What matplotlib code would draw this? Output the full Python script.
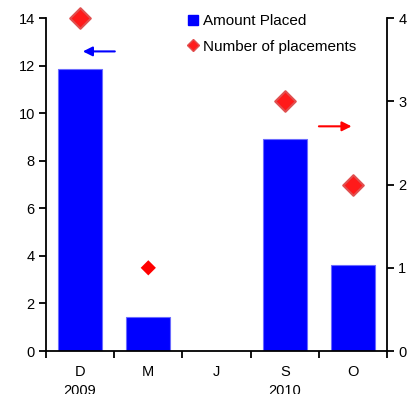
import matplotlib.pyplot as plt
import numpy as np

plt.rcParams['font.family'] = ['Liberation Sans', 'DejaVu Sans']

# Data
months = ['D', 'M', 'J', 'S', 'O']
years = ['2009', '', '', '2010', '']
amount_placed = [11.85, 1.45, 0.0, 8.9, 3.62]
# number of placements (right axis), None = no placement
placements = [4, 1, None, 3, 2]

fig = plt.figure(figsize=(4.14, 3.94), dpi=100)
ax = fig.add_axes([0.111, 0.109, 0.824, 0.845])
x = np.arange(len(months))

ax.bar(x, amount_placed, width=0.64, color='#0000ff', edgecolor='#6b6bff', linewidth=0.8,
       label='Amount Placed', zorder=2)
ax.set_xlim(-0.5, len(months) - 0.5)
ax.set_ylim(0, 14)
ax.set_yticks(range(0, 15, 2))

ax2 = ax.twinx()
ax2.set_ylim(0, 4)
ax2.set_yticks(range(0, 5))
px = [i for i, v in enumerate(placements) if v is not None]
py = [v for v in placements if v is not None]
big = [i for i in range(len(px)) if px[i] != 1]
small = [i for i in range(len(px)) if px[i] == 1]
ax2.scatter([px[i] for i in big], [py[i] for i in big], marker='D', s=110,
            color='#ff1a1a', edgecolor='#e05050', linewidth=1.5, zorder=3, clip_on=False)
ax2.scatter([px[i] for i in small], [py[i] for i in small], marker='D', s=60,
            color='#ff0000', edgecolor='none', zorder=3, clip_on=False)

# Spines and ticks
for a in (ax, ax2):
    a.spines['top'].set_visible(False)
    for s in ('left', 'right', 'bottom'):
        a.spines[s].set_linewidth(1.3)
    a.tick_params(axis='y', direction='out', length=5, width=1.3, labelsize=10.5, pad=3)
ax.spines['right'].set_visible(False)
ax2.spines['left'].set_visible(False)
ax2.spines['bottom'].set_visible(False)

ax.set_xticks(np.arange(-0.5, len(months), 1))
ax.set_xticklabels([])
ax.tick_params(axis='x', direction='out', length=5, width=1.3)
ax.set_xticks(x, minor=True)
ax.set_xticklabels([m + '\n' + y if y else m for m, y in zip(months, years)],
                   minor=True, fontsize=10.5, linespacing=1.45, va='top')
ax.tick_params(axis='x', which='minor', length=0, pad=10)

# Arrows pointing to each axis
ax2.annotate('', xy=(0.0, 3.6), xytext=(0.55, 3.6),
             arrowprops=dict(arrowstyle='-|>', color='#0000ff', lw=1.5, mutation_scale=14))
ax2.annotate('', xy=(4.02, 2.7), xytext=(3.46, 2.7),
             arrowprops=dict(arrowstyle='-|>', color='#ff0000', lw=1.5, mutation_scale=14))

# Legend
h1 = plt.Line2D([], [], marker='s', color='#0000ff', linestyle='none', markersize=7)
h2 = plt.Line2D([], [], marker='D', color='#ff1a1a', markeredgecolor='#e05050',
                linestyle='none', markersize=6)
ax2.legend([h1, h2], ['Amount Placed', 'Number of placements'], loc='upper left',
           bbox_to_anchor=(0.39, 1.03), frameon=False, fontsize=11, handletextpad=0.15,
           handlelength=1.0, labelspacing=0.75, borderaxespad=0)

plt.savefig('out.png', dpi=100)
